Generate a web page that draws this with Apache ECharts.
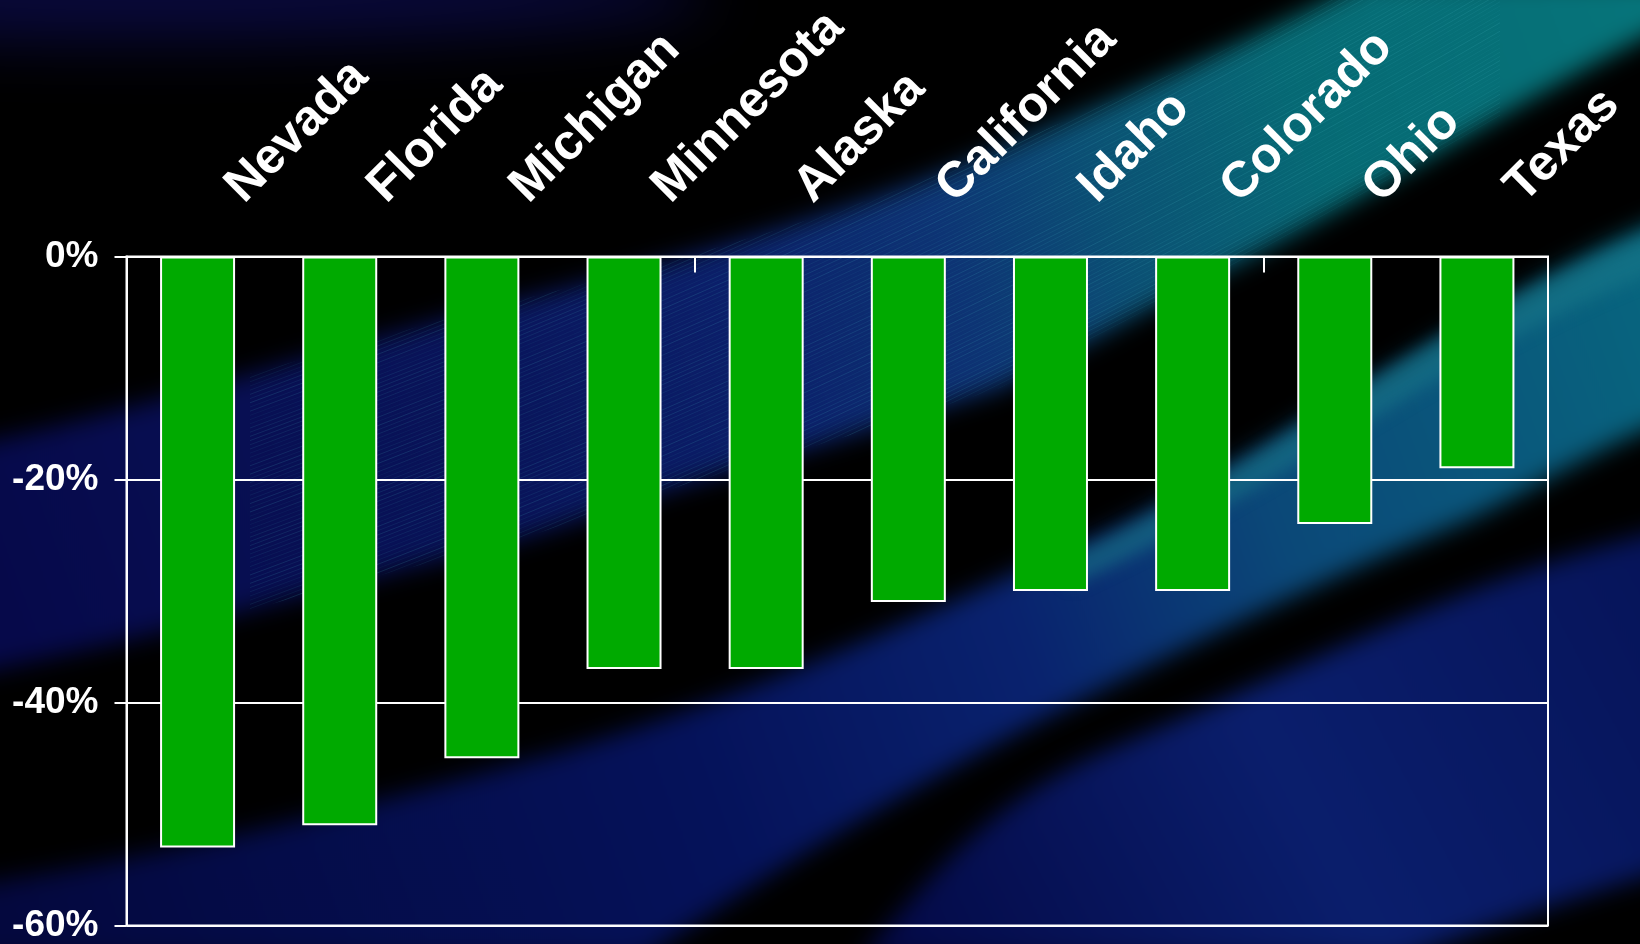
<!DOCTYPE html>
<html>
<head>
<meta charset="utf-8">
<script src="https://cdn.jsdelivr.net/npm/echarts@6/dist/echarts.min.js"></script>
<style>
  html, body { margin:0; padding:0; background:#000; }
  #wrap { position:relative; width:1640px; height:944px; overflow:hidden; background:#000; }
  #bg { position:absolute; left:0; top:0; }
  #chart { position:absolute; left:0; top:0; width:1640px; height:944px; }
</style>
</head>
<body>
<div id="wrap">
<canvas id="bg" width="1640" height="944"></canvas>
<div id="chart"></div>
</div>
<script>
const categories = ['Nevada','Florida','Michigan','Minnesota','Alaska','California','Idaho','Colorado','Ohio','Texas'];
const values = [-53, -51, -45, -37, -37, -31, -30, -30, -24, -19];
const yTicks = { min: -60, max: 0, interval: 20 };

// ---- decorative background (blurred streak bands) ----
(function drawBackground() {
  const c = document.getElementById('bg');
  const ctx = c.getContext('2d');
  ctx.fillStyle = '#000';
  ctx.fillRect(0, 0, 1640, 944);

  function grad(x1, y1, x2, y2, stops) {
    const g = ctx.createLinearGradient(x1, y1, x2, y2);
    stops.forEach(s => g.addColorStop(s[0], s[1]));
    return g;
  }
  function band(d, fill, blur, alpha) {
    ctx.save();
    ctx.filter = 'blur(' + blur + 'px)';
    ctx.globalAlpha = alpha == null ? 1 : alpha;
    ctx.fillStyle = fill;
    ctx.fill(new Path2D(d));
    ctx.restore();
  }

  // top-left haze
  ctx.save();
  ctx.filter = 'blur(30px)';
  ctx.fillStyle = 'rgba(10,10,70,0.85)';
  ctx.beginPath();
  ctx.ellipse(150, -5, 560, 45, 0, 0, Math.PI * 2);
  ctx.fill();
  ctx.restore();

  const pathA = 'M -60,450 C 100,425 350,340 560,290 C 700,255 850,210 950,170 C 1100,108 1250,40 1370,-20 L 1700,-20 L 1700,10 C 1550,80 1400,180 1234,265 C 1150,305 1100,337 1000,388 C 900,420 800,451 700,480 C 600,510 560,532 400,570 C 250,610 100,650 -60,680 Z';
  band(pathA, grad(0, 600, 1640, 0, [
    [0, '#06094a'], [0.3, '#09145a'], [0.45, '#0b1f6a'], [0.58, '#0d3474'],
    [0.68, '#0b5274'], [0.8, '#066a74'], [1, '#06747a']
  ]), 12);

  // fine streaks inside band A
  ctx.save();
  ctx.clip(new Path2D(pathA));
  ctx.filter = 'blur(0.5px)';
  ctx.strokeStyle = '#4ab8c4';
  ctx.lineWidth = 1;
  for (let k = -60; k < 200; k++) {
    const off = k * 4.2 - 300;
    const a = 0.06 + 0.12 * Math.abs(Math.sin(k * 1.7) * Math.cos(k * 0.37));
    ctx.globalAlpha = a;
    ctx.beginPath();
    ctx.moveTo(250, 560 + off);
    ctx.bezierCurveTo(600, 430 + off, 1000, 260 + off, 1500, -30 + off);
    ctx.stroke();
  }
  ctx.restore();

  const pathB = 'M -60,890 C 150,860 350,810 560,752 C 800,680 950,600 1100,535 C 1200,490 1300,420 1444,337 C 1520,295 1600,240 1700,205 L 1700,410 C 1600,440 1520,500 1444,530 C 1300,590 1200,640 1100,690 C 950,765 800,850 640,960 L -60,960 Z';
  band(pathB, grad(0, 900, 1640, 300, [
    [0, '#04083e'], [0.4, '#05125a'], [0.6, '#09226e'], [0.76, '#0b4878'], [1, '#08647e']
  ]), 12);

  // teal highlight along band B upper edge (right)
  band('M 1060,560 C 1150,520 1250,460 1350,395 C 1450,330 1550,270 1700,215 L 1700,255 C 1560,305 1460,365 1360,426 C 1260,486 1160,546 1070,586 Z',
    '#1a7a8a', 8, 0.55);

  const pathC = 'M 860,960 C 950,850 1000,800 1100,753 C 1250,690 1350,640 1444,602 C 1520,570 1600,545 1700,520 L 1700,860 C 1600,890 1500,920 1400,960 Z';
  band(pathC, grad(900, 944, 1640, 550, [
    [0, '#040a48'], [0.5, '#0a1e6c'], [1, '#06145a']
  ]), 12);
})();

// ---- chart ----
const chart = echarts.init(document.getElementById('chart'), null, { renderer: 'canvas' });
const font = 'Liberation Sans, Arial, Helvetica, sans-serif';
chart.setOption({
  backgroundColor: 'transparent',
  animation: false,
  grid: { left: 126.5, right: 92, top: 256, bottom: 17, show: true, borderColor: '#ffffff', borderWidth: 2, backgroundColor: 'transparent', containLabel: false },
  xAxis: {
    type: 'category',
    position: 'top',
    data: categories,
    axisLine: { show: true, lineStyle: { color: '#ffffff', width: 2 } },
    axisTick: { show: true, inside: true, length: 16, interval: function (i) { return i % 4 === 0; }, lineStyle: { color: '#ffffff', width: 2 } },
    axisLabel: {
      show: true, interval: 0, rotate: 45, color: '#ffffff', fontFamily: font, fontWeight: 'bold', fontSize: 50,
      margin: 25, align: 'left', verticalAlign: 'middle', padding: [0, 0, 0, 52], hideOverlap: false
    },
    splitLine: { show: false }
  },
  yAxis: {
    type: 'value',
    min: yTicks.min, max: yTicks.max, interval: yTicks.interval,
    axisLine: { show: true, lineStyle: { color: '#ffffff', width: 2 } },
    axisTick: { show: true, inside: false, length: 12, lineStyle: { color: '#ffffff', width: 2 } },
    axisLabel: { color: '#ffffff', fontFamily: font, fontWeight: 'bold', fontSize: 37, margin: 28, formatter: '{value}%' },
    splitLine: { show: true, lineStyle: { color: '#ffffff', width: 2 } }
  },
  series: [{
    type: 'bar',
    data: values,
    barWidth: 75,
    itemStyle: { color: '#00AA00', borderColor: '#ffffff', borderWidth: 2 },
    z: 3
  }]
});
</script>
</body>
</html>
